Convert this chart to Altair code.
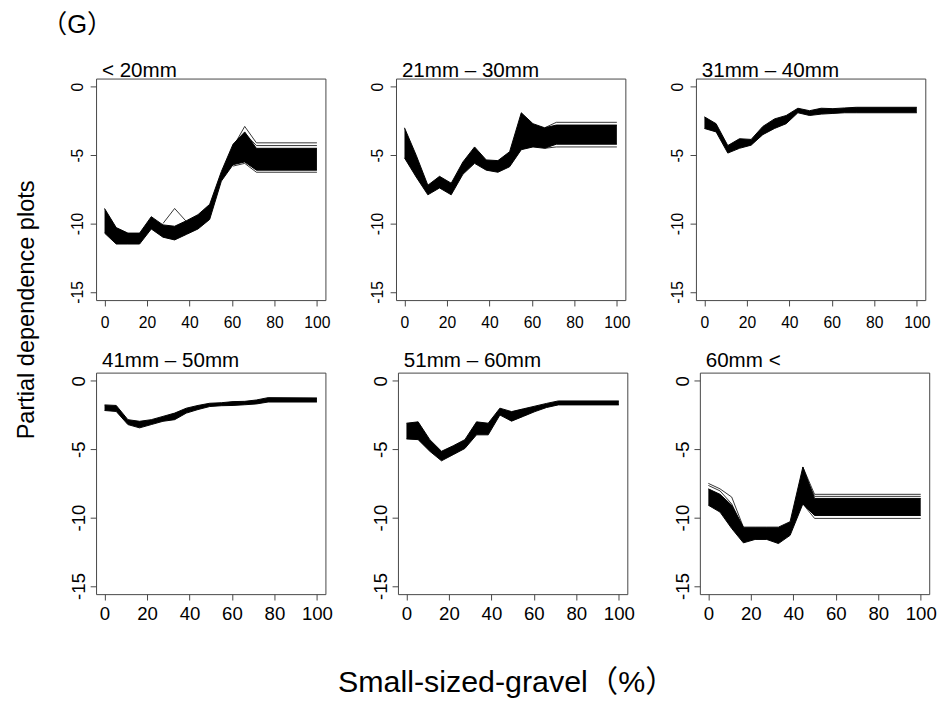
import altair as alt
import pandas as pd

FONT = "Liberation Sans, Arial, Noto Sans CJK JP"

# ---------------- data ----------------
panel_titles = ["< 20mm", "21mm – 30mm", "31mm – 40mm",
                "41mm – 50mm", "51mm – 60mm", "60mm <"]

x_ticks = [0, 20, 40, 60, 80, 100]
y_ticks = [-15, -10, -5, 0]

# panel 1 : < 20mm  (band of model curves: upper / lower envelope)
p1_x = [0, 5.5, 11, 16.5, 22, 27.5, 33, 38.5, 44, 49.5, 55, 60.5, 66, 71.5, 100]
p1_hi = [-8.9, -10.3, -10.7, -10.7, -9.5, -10.1, -10.2, -9.8, -9.35, -8.6, -6.2, -4.2, -3.3, -4.5, -4.5]
p1_lo = [-10.7, -11.5, -11.5, -11.5, -10.4, -11.0, -11.2, -10.8, -10.4, -9.7, -6.9, -5.7, -5.5, -6.1, -6.1]
p1_extra = [
    ([27.5, 33, 38.5], [-10.0, -8.9, -9.85]),
    ([60.5, 66, 71.5, 100], [-4.4, -2.9, -4.1, -4.1]),
    ([60.5, 66, 71.5, 100], [-4.5, -3.4, -4.3, -4.3]),
    ([60.5, 66, 71.5, 100], [-5.8, -5.6, -6.25, -6.25]),
]

# panel 2 : 21mm - 30mm
p2_x = [0, 5.5, 11, 16.5, 22, 27.5, 33, 38.5, 44, 49.5, 55, 60.5, 66, 71.5, 100]
p2_hi = [-3.0, -5.0, -7.2, -6.55, -7.05, -5.5, -4.4, -5.35, -5.4, -4.75, -1.9, -2.7, -3.0, -2.8, -2.8]
p2_lo = [-5.2, -6.6, -7.9, -7.4, -7.9, -6.4, -5.6, -6.1, -6.25, -5.85, -4.6, -4.4, -4.5, -4.2, -4.2]
p2_extra = [
    ([66, 71.5, 100], [-3.0, -2.6, -2.6]),
    ([66, 71.5, 100], [-4.5, -4.4, -4.4]),
]

# panel 3 : 31mm - 40mm
p3_x = [0, 5.5, 11, 16.5, 22, 27.5, 33, 38.5, 44, 49.5, 55, 60.5, 66, 71.5, 100]
p3_hi = [-2.2, -2.7, -4.3, -3.8, -3.85, -2.9, -2.35, -2.1, -1.57, -1.75, -1.57, -1.6, -1.55, -1.5, -1.5]
p3_lo = [-3.05, -3.3, -4.85, -4.5, -4.27, -3.5, -3.05, -2.7, -1.9, -2.1, -2.0, -1.95, -1.9, -1.9, -1.9]
p3_extra = []

# panel 4 : 41mm - 50mm
p4_x = [0, 5.5, 11, 16.5, 22, 27.5, 33, 38.5, 44, 49.5, 55, 60.5, 66, 71.5, 77, 100]
p4_hi = [-1.76, -1.8, -2.84, -2.96, -2.84, -2.6, -2.36, -2.0, -1.8, -1.64, -1.6, -1.52, -1.5, -1.4, -1.23, -1.25]
p4_lo = [-2.17, -2.24, -3.2, -3.44, -3.2, -2.96, -2.84, -2.36, -2.1, -1.88, -1.82, -1.8, -1.75, -1.69, -1.55, -1.55]
p4_extra = []

# panel 5 : 51mm - 60mm
p5_x = [0, 5.5, 11, 16.5, 22, 27.5, 33, 38.5, 44, 49.5, 55, 60.5, 66, 71.5, 100]
p5_hi = [-3.1, -3.0, -4.3, -5.15, -4.75, -4.3, -3.0, -3.1, -2.0, -2.25, -2.05, -1.85, -1.65, -1.47, -1.47]
p5_lo = [-4.25, -4.3, -5.15, -5.85, -5.4, -4.95, -3.95, -3.95, -2.5, -2.95, -2.6, -2.25, -1.95, -1.76, -1.76]
p5_extra = []

# panel 6 : 60mm <
p6_x = [0, 5.5, 11, 16.5, 22, 27.5, 33, 38.5, 44.5, 50, 100]
p6_hi = [-7.9, -8.3, -9.1, -10.7, -10.7, -10.7, -10.7, -10.3, -6.3, -8.6, -8.6]
p6_lo = [-9.1, -9.6, -10.8, -11.85, -11.6, -11.6, -11.9, -11.3, -9.0, -9.85, -9.85]
p6_extra = [
    ([0, 5.5, 11, 16.5], [-7.5, -7.9, -8.5, -10.7]),
    ([0, 5.5, 11, 16.5], [-7.65, -8.05, -9.0, -10.8]),
    ([44.5, 50, 100], [-6.3, -8.3, -8.3]),
    ([44.5, 50, 100], [-6.6, -8.45, -8.45]),
    ([44.5, 50, 100], [-9.0, -10.06, -10.06]),
]

panels = [
    (p1_x, p1_lo, p1_hi, p1_extra),
    (p2_x, p2_lo, p2_hi, p2_extra),
    (p3_x, p3_lo, p3_hi, p3_extra),
    (p4_x, p4_lo, p4_hi, p4_extra),
    (p5_x, p5_lo, p5_hi, p5_extra),
    (p6_x, p6_lo, p6_hi, p6_extra),
]

# ---------------- chart ----------------
PW, PH = 234, 226
XS = alt.Scale(domain=[-4, 104], nice=False, zero=False)
YS = alt.Scale(domain=[-15.6, 0.6], nice=False, zero=False)
LABEL_EXPR = "'' + datum.value"


def make_panel(i, xs, lo, hi, extra, row):
    fs = 16 if row == 0 else 19
    xaxis = alt.Axis(values=x_ticks, title=None, grid=False, domain=False,
                     tickColor="#444", tickSize=6, labelPadding=9 if row == 0 else 5,
                     labelFont=FONT, labelFontSize=fs, labelColor="black",
                     labelFlush=False, labelOverlap=False, labelExpr=LABEL_EXPR)
    yaxis = alt.Axis(values=y_ticks, title=None, grid=False, domain=False,
                     tickColor="#444", tickSize=6,
                     labelPadding=2 + (19 - fs),
                     labelFont=FONT, labelFontSize=fs, labelColor="black",
                     labelAngle=270, labelAlign="center", labelBaseline="bottom",
                     labelFlush=False, labelOverlap=False, labelExpr=LABEL_EXPR)
    band = pd.DataFrame({"x": xs, "lo": lo, "hi": hi})
    base = alt.Chart(band)
    area = base.mark_area(color="black", opacity=1).encode(
        x=alt.X("x:Q", scale=XS, axis=xaxis),
        y=alt.Y("lo:Q", scale=YS, axis=yaxis),
        y2="hi:Q",
    )
    lo_line = base.mark_line(color="black", strokeWidth=1).encode(
        x=alt.X("x:Q", scale=XS), y=alt.Y("lo:Q", scale=YS))
    hi_line = base.mark_line(color="black", strokeWidth=1).encode(
        x=alt.X("x:Q", scale=XS), y=alt.Y("hi:Q", scale=YS))
    layers = [area, lo_line, hi_line]
    if extra:
        rows = []
        for k, (ex, ey) in enumerate(extra):
            for a, b in zip(ex, ey):
                rows.append({"x": a, "y": b, "id": k})
        ed = pd.DataFrame(rows)
        layers.append(alt.Chart(ed).mark_line(color="black", strokeWidth=0.8).encode(
            x=alt.X("x:Q", scale=XS), y=alt.Y("y:Q", scale=YS), detail="id:N"))
    title = alt.Chart(pd.DataFrame({"t": [panel_titles[i]]})).mark_text(
        font=FONT, fontSize=21, align="left", baseline="alphabetic", color="black"
    ).encode(text="t:N", x=alt.value(6), y=alt.value(-2 if row == 0 else -6))
    layers.append(title)
    return alt.layer(*layers).properties(width=PW, height=PH)


charts = [make_panel(i, *panels[i], row=0 if i < 3 else 1) for i in range(6)]
row1 = alt.hconcat(*charts[:3], spacing=38)
row2 = alt.hconcat(*charts[3:], spacing=38)

ytitle = alt.Chart(pd.DataFrame({"t": ["Partial dependence plots"]})).mark_text(
    angle=270, font=FONT, fontSize=24, align="center", baseline="middle", color="black"
).encode(text="t:N", x=alt.value(27), y=alt.value(236)).properties(
    width=50, height=540, view=alt.ViewBackground(stroke="transparent"))

xtitle = alt.Chart(pd.DataFrame({"t": ["Small-sized-gravel（%）"]})).mark_text(
    font=FONT, fontSize=31, align="center", baseline="alphabetic", color="black"
).encode(text="t:N", x=alt.value(419), y=alt.value(50)).properties(
    width=860, height=58, view=alt.ViewBackground(stroke="transparent"))

rows = alt.vconcat(row1, row2, spacing=18)
grid = alt.vconcat(rows, xtitle, spacing=18)
chart = alt.hconcat(ytitle, grid, spacing=18).properties(
    title=alt.TitleParams("（G）", anchor="start", font=FONT, fontSize=26,
                          fontWeight="normal", color="black", dx=42, offset=22),
    padding={"left": 0, "top": 5, "right": 0, "bottom": 0},
    background="white",
).configure_view(stroke="#444", strokeWidth=1)

chart.save("out.html", embed_options={"renderer": "svg", "actions": False})
